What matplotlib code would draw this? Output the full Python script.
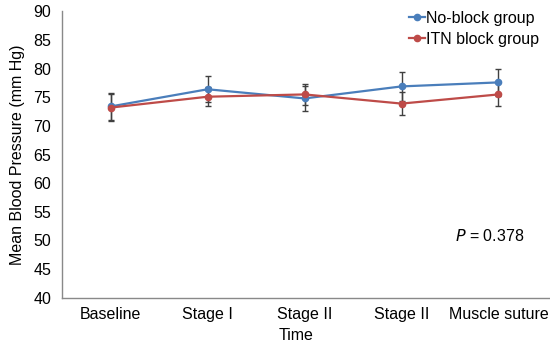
import matplotlib.pyplot as plt

categories = ["Baseline", "Stage I", "Stage II", "Stage II", "Muscle suture"]
no_block = [73.4, 76.4, 74.8, 76.9, 77.6]
no_block_err = [2.4, 2.3, 2.2, 2.5, 2.3]
itn_block = [73.2, 75.1, 75.5, 73.9, 75.5]
itn_block_err = [2.3, 1.7, 1.9, 2.0, 2.1]

plt.rcParams['font.family'] = ['Liberation Sans', 'DejaVu Sans']
fs = 11.5

fig = plt.figure(figsize=(5.5, 3.45), dpi=100)
ax = fig.add_axes([0.113, 0.137, 0.885, 0.83])

x = list(range(len(categories)))
ax.errorbar(x, no_block, yerr=no_block_err, fmt='none', ecolor='#404040',
            elinewidth=1.0, capsize=2, capthick=1.0, zorder=2)
ax.errorbar(x, itn_block, yerr=itn_block_err, fmt='none', ecolor='#404040',
            elinewidth=1.0, capsize=2, capthick=1.0, zorder=2)
ax.plot(x, no_block, color='#4a7ebb', lw=1.6, marker='o', ms=4.5,
        label='No-block group', zorder=3)
ax.plot(x, itn_block, color='#be4b48', lw=1.6, marker='o', ms=4.5,
        label='ITN block group', zorder=3)

ax.set_ylim(40, 90)
ax.set_yticks(range(40, 91, 5))
ax.set_xlim(-0.5, 4.52)
ax.set_xticks(x)
ax.set_xticklabels(categories, fontsize=fs)
ax.tick_params(axis='x', length=0, labelsize=fs, pad=7)
ax.tick_params(axis='y', length=0, labelsize=fs, pad=8)
ax.set_ylabel('Mean Blood Pressure (mm Hg)', fontsize=fs, labelpad=6)
ax.set_xlabel('Time', fontsize=fs, ha='left')
ax.xaxis.set_label_coords(0.444, -0.105)
ax.xaxis.label.set_verticalalignment('top')

for side in ['top', 'right']:
    ax.spines[side].set_visible(False)
for side in ['left', 'bottom']:
    ax.spines[side].set_color('#898989')
    ax.spines[side].set_linewidth(1.0)

ax.text(3.55, 50.7, r'$\it{P}$ = 0.378', fontsize=fs, ha='left', va='center')

ax.legend(loc='upper right', bbox_to_anchor=(1.0, 1.035), frameon=False,
          fontsize=fs, handlelength=1.0, handletextpad=0.1,
          labelspacing=0.35, borderaxespad=0.2)

fig.savefig('out.png', dpi=100)
